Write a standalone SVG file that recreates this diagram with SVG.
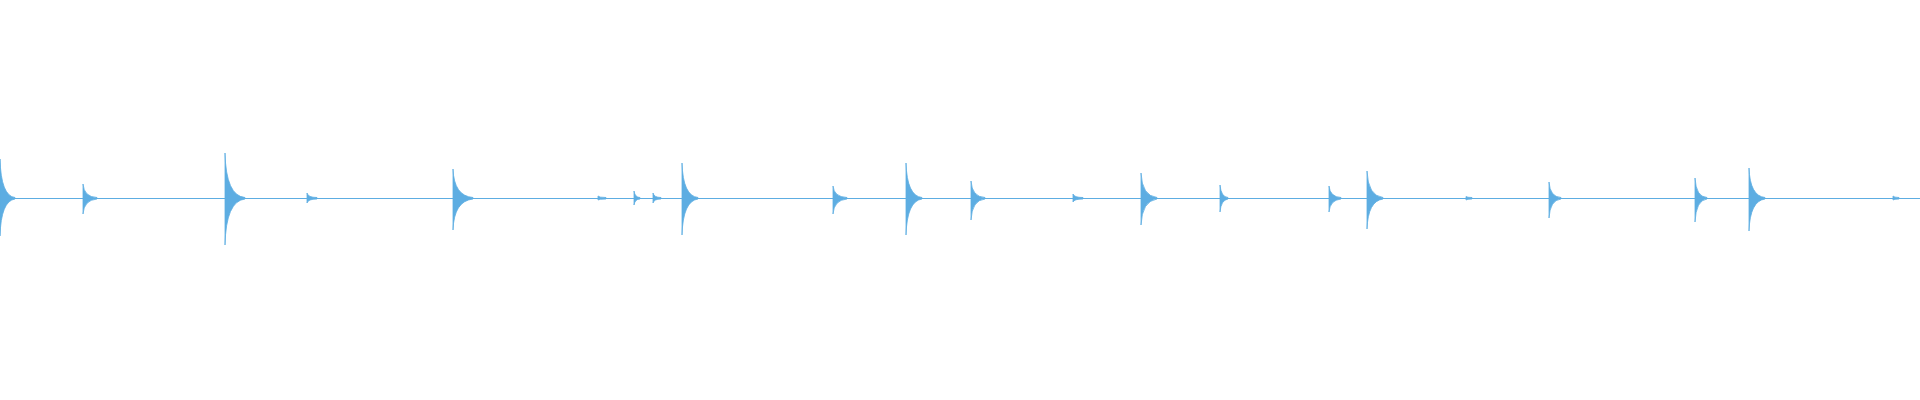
<svg xmlns="http://www.w3.org/2000/svg" width="1920" height="400" viewBox="0 0 1920 400">
<style>
.w{fill:#5dade2;stroke:#5dade2;stroke-width:0.8}
.b{stroke:#5dade2;stroke-width:1.2;fill:none}
</style>
<rect width="1920" height="400" fill="#ffffff"/>
<line class="b" x1="0" y1="198.5" x2="1920" y2="198.5"/>
<g id="transients">
<path class="w" d="M0,198 L0,159 Q1,196 15,197.5 L15,199 Q1,201 0,236 Z"/>
<path class="w" d="M83,198 L83,184 Q84,197 97,197.5 L97,199 Q84,200 83,214 Z"/>
<path class="w" d="M225,198 L225,153 Q226,196 245,197.5 L245,199 Q226,201 225,245 Z"/>
<path class="w" d="M307,198 L307,193 Q308,197.5 317,197.5 L317,199 Q308,199 307,203 Z"/>
<path class="w" d="M453,198 L453,169 Q454,196 473,197.5 L473,199 Q454,201 453,230 Z"/>
<path class="w" d="M598,198 L598,196 Q599,197.5 606,197.5 L606,199 Q599,199 598,200 Z"/>
<path class="w" d="M634,198 L634,191 Q635,197.5 640,197.5 L640,199 Q635,199 634,205 Z"/>
<path class="w" d="M653,198 L653,193 Q654,197.5 661,197.5 L661,199 Q654,199 653,203 Z"/>
<path class="w" d="M682,198 L682,163 Q683,196 698,197.5 L698,199 Q683,201 682,235 Z"/>
<path class="w" d="M833,198 L833,186 Q834,197 847,197.5 L847,199 Q834,200 833,214 Z"/>
<path class="w" d="M906,198 L906,163 Q907,196 922,197.5 L922,199 Q907,201 906,235 Z"/>
<path class="w" d="M971,198 L971,181 Q972,197 985,197.5 L985,199 Q972,200 971,220 Z"/>
<path class="w" d="M1073,198 L1073,194 Q1074,197.5 1083,197.5 L1083,199 Q1074,199 1073,202 Z"/>
<path class="w" d="M1141,198 L1141,173 Q1142,196 1157,197.5 L1157,199 Q1142,201 1141,225 Z"/>
<path class="w" d="M1220,198 L1220,185 Q1221,197 1228,197.5 L1228,199 Q1221,200 1220,212 Z"/>
<path class="w" d="M1329,198 L1329,186 Q1330,197 1341,197.5 L1341,199 Q1330,200 1329,212 Z"/>
<path class="w" d="M1367,198 L1367,171 Q1368,196 1383,197.5 L1383,199 Q1368,201 1367,229 Z"/>
<path class="w" d="M1466,198 L1466,196.5 Q1467,197.5 1472,197.5 L1472,199 Q1467,199 1466,200 Z"/>
<path class="w" d="M1549,198 L1549,182 Q1550,197 1561,197.5 L1561,199 Q1550,200 1549,218 Z"/>
<path class="w" d="M1695,198 L1695,178 Q1696,197 1707,197.5 L1707,199 Q1696,200 1695,222 Z"/>
<path class="w" d="M1749,198 L1749,168 Q1750,196 1765,197.5 L1765,199 Q1750,201 1749,231 Z"/>
<path class="w" d="M1893,198 L1893,196 Q1894,197.5 1899,197.5 L1899,199 Q1894,199 1893,200 Z"/>
</g>
</svg>
